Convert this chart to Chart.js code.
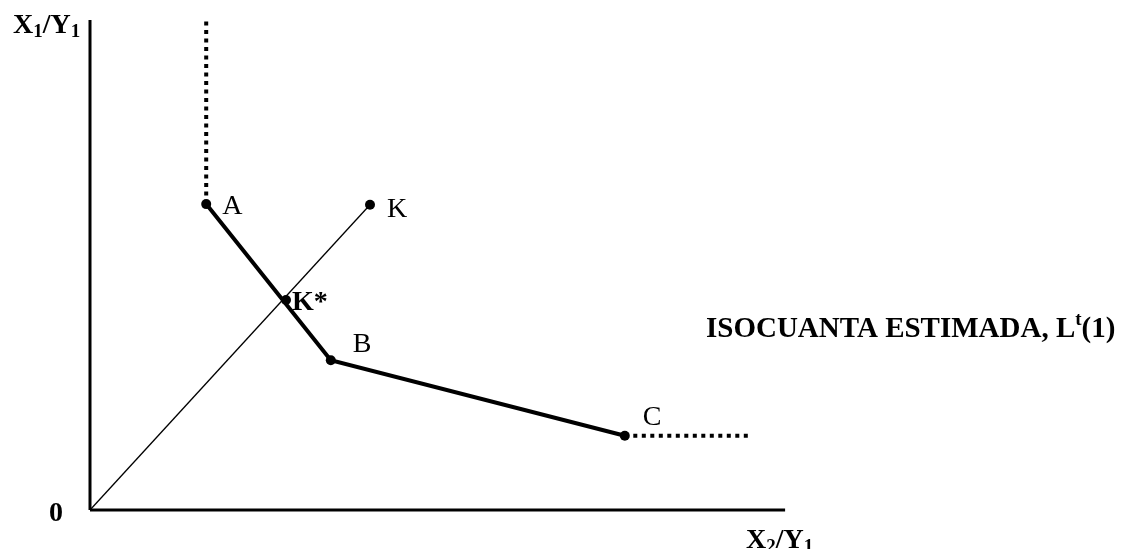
<!DOCTYPE html>
<html>
<head>
<meta charset="utf-8">
<script src="https://cdn.jsdelivr.net/npm/chart.js@4"></script>
<style>
  body { margin: 0; background: #fff; }
</style>
</head>
<body>
<canvas id="isoChart" width="1122" height="549"></canvas>
<script>
// data (units of the drawing, origin = 0)
const xMax = 10;
const yMax = 7;
const axisEnds = [9.93, 7.0];             // x axis length, y axis length
const isoNames = ['A', 'B', 'C'];         // estimated isoquant vertices
const isoX = [1.66, 3.44, 7.64];
const isoY = [4.37, 2.14, 1.06];
const rayNames = ['0', 'K'];              // ray from the origin through K
const rayX = [0, 4.0];
const rayY = [0, 4.36];
const kStar = [2.8, 3.0];                 // K* where the ray cuts the isoquant
const extUpY = 7.0;                       // dotted part above A
const extRightX = 9.43;                   // dotted part right of C

const serif = "'Liberation Serif', 'Times New Roman', serif";
const ink = '#000';

function pts(xs, ys) {
  return xs.map((x, i) => ({ x: x, y: ys[i] }));
}

// text labels drawn on top of the chart
const labelPlugin = {
  id: 'labels',
  afterDatasetsDraw(chart) {
    const ctx = chart.ctx;
    const sx = chart.scales.x, sy = chart.scales.y;
    const px = v => sx.getPixelForValue(v);
    const py = v => sy.getPixelForValue(v);
    ctx.save();
    ctx.fillStyle = ink;
    ctx.textBaseline = 'alphabetic';
    ctx.textAlign = 'left';

    // point names
    ctx.font = '28px ' + serif;
    ctx.fillText(isoNames[0], px(isoX[0]) + 16, py(isoY[0]) + 10);
    ctx.fillText(isoNames[1], px(isoX[1]) + 22, py(isoY[1]) - 8);
    ctx.fillText(isoNames[2], px(isoX[2]) + 18, py(isoY[2]) - 11);
    ctx.fillText(rayNames[1], px(rayX[1]) + 17, py(rayY[1]) + 12);
    ctx.font = 'bold 28px ' + serif;
    ctx.fillText('K*', px(kStar[0]) + 6, py(kStar[1]) + 10);

    // origin
    ctx.textAlign = 'center';
    ctx.fillText('0', 56, py(0) + 11);
    ctx.textAlign = 'left';

    // axis titles with subscripts
    function subLabel(x, y, parts) {
      let cx = x;
      parts.forEach(p => {
        ctx.font = p.sub ? 'bold 19px ' + serif : 'bold 28px ' + serif;
        ctx.fillText(p.t, cx, y + (p.sub ? 4 : 0));
        cx += ctx.measureText(p.t).width;
      });
    }
    subLabel(13, 33, [{t: 'X'}, {t: '1', sub: true}, {t: '/Y'}, {t: '1', sub: true}]);
    subLabel(746, 548, [{t: 'X'}, {t: '2', sub: true}, {t: '/Y'}, {t: '1', sub: true}]);

    // isoquant title with superscript
    let tx = 706;
    const ty = 337;
    ctx.font = 'bold 29px ' + serif;
    ctx.fillText('ISOCUANTA ESTIMADA, L', tx, ty);
    tx += ctx.measureText('ISOCUANTA ESTIMADA, L').width;
    ctx.font = 'bold 19px ' + serif;
    ctx.fillText('t', tx, ty - 12);
    tx += ctx.measureText('t').width;
    ctx.font = 'bold 29px ' + serif;
    ctx.fillText('(1)', tx, ty);
    ctx.restore();
  }
};

const ctx = document.getElementById('isoChart').getContext('2d');
new Chart(ctx, {
  type: 'scatter',
  plugins: [labelPlugin],
  data: {
    datasets: [
      { // y axis
        data: [{x: 0, y: 0}, {x: 0, y: axisEnds[1]}],
        showLine: true, borderColor: ink, borderWidth: 3, pointRadius: 0
      },
      { // x axis
        data: [{x: 0, y: 0}, {x: axisEnds[0], y: 0}],
        showLine: true, borderColor: ink, borderWidth: 3, pointRadius: 0
      },
      { // ray O-K
        data: pts(rayX, rayY),
        showLine: true, borderColor: ink, borderWidth: 1.3,
        pointRadius: [0, 5], pointBackgroundColor: ink, pointBorderWidth: 0
      },
      { // dotted above A
        data: [{x: isoX[0], y: isoY[0]}, {x: isoX[0], y: extUpY}],
        showLine: true, borderColor: ink, borderWidth: 4, borderDash: [4, 4.5],
        pointRadius: 0
      },
      { // dotted right of C
        data: [{x: isoX[2], y: isoY[2]}, {x: extRightX, y: isoY[2]}],
        showLine: true, borderColor: ink, borderWidth: 4, borderDash: [4, 4.5],
        pointRadius: 0
      },
      { // isoquant A-B-C
        data: pts(isoX, isoY),
        showLine: true, borderColor: ink, borderWidth: 4,
        pointRadius: 5, pointBackgroundColor: ink, pointBorderWidth: 0
      },
      { // K*
        data: [{x: kStar[0], y: kStar[1]}],
        pointRadius: 5, pointBackgroundColor: ink, pointBorderWidth: 0
      }
    ]
  },
  options: {
    responsive: false,
    animation: false,
    clip: false,
    layout: { padding: { left: 90, right: 332, top: 20, bottom: 39 } },
    plugins: {
      legend: { display: false },
      tooltip: { enabled: false }
    },
    scales: {
      x: { type: 'linear', min: 0, max: xMax, display: false },
      y: { type: 'linear', min: 0, max: yMax, display: false }
    }
  }
});
</script>
</body>
</html>
